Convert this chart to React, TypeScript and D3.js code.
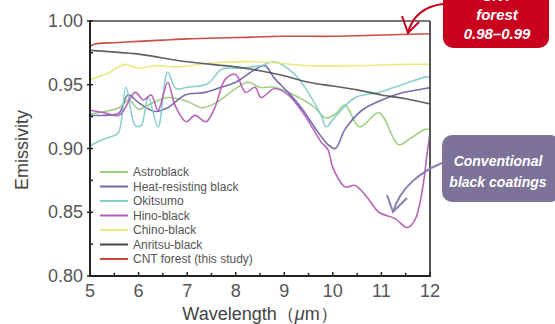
import * as d3 from 'd3'

// wavelength (um) vs emissivity
const astroblack: [number, number][] = [
  [5, 0.927], [5.3, 0.929], [5.6, 0.932], [5.8, 0.938], [6.0, 0.931], [6.3, 0.936], [6.6, 0.94],
  [7.0, 0.937], [7.3, 0.932], [7.6, 0.936], [8.0, 0.947], [8.25, 0.952], [8.5, 0.948], [8.8, 0.948],
  [9.2, 0.942], [9.6, 0.933], [9.85, 0.924], [10.05, 0.927], [10.25, 0.934], [10.55, 0.917],
  [10.95, 0.928], [11.35, 0.903], [11.6, 0.908], [11.9, 0.915], [12, 0.915],
]
const heatResisting: [number, number][] = [
  [5, 0.926], [5.3, 0.926], [5.6, 0.928], [5.78, 0.942], [6.0, 0.936], [6.34, 0.929], [6.6, 0.932],
  [6.96, 0.942], [7.37, 0.944], [7.7, 0.948], [8.0, 0.952], [8.4, 0.962], [8.6, 0.965], [8.8, 0.955],
  [9.08, 0.944], [9.35, 0.932], [9.69, 0.913], [9.9, 0.903], [10.05, 0.9], [10.25, 0.915],
  [10.6, 0.93], [10.95, 0.937], [11.36, 0.943], [11.9, 0.947], [12, 0.948],
]
const okitsumo: [number, number][] = [
  [5, 0.902], [5.2, 0.906], [5.4, 0.909], [5.58, 0.912], [5.74, 0.948], [5.93, 0.918], [6.05, 0.918],
  [6.2, 0.94], [6.4, 0.917], [6.6, 0.96], [6.77, 0.947], [7.0, 0.948], [7.43, 0.951], [7.7, 0.962],
  [8.05, 0.963], [8.52, 0.965], [8.8, 0.968], [9.22, 0.958], [9.49, 0.944], [9.76, 0.926],
  [9.86, 0.917], [10.05, 0.925], [10.46, 0.94], [10.95, 0.944], [11.42, 0.95], [11.9, 0.956], [12, 0.956],
]
const hinoBlack: [number, number][] = [
  [5, 0.93], [5.3, 0.928], [5.6, 0.926], [5.93, 0.944], [6.1, 0.938], [6.26, 0.942], [6.4, 0.93],
  [6.6, 0.952], [6.75, 0.934], [6.98, 0.921], [7.16, 0.926], [7.39, 0.921], [7.57, 0.932],
  [7.78, 0.954], [8.0, 0.958], [8.2, 0.944], [8.4, 0.948], [8.52, 0.94], [8.8, 0.947], [9.08, 0.942],
  [9.42, 0.926], [9.76, 0.905], [9.9, 0.899], [10.0, 0.885], [10.25, 0.87], [10.46, 0.871],
  [10.7, 0.862], [10.95, 0.85], [11.28, 0.845], [11.53, 0.838], [11.69, 0.844], [11.84, 0.867],
  [11.94, 0.896], [12, 0.912],
]
const chinoBlack: [number, number][] = [
  [5, 0.954], [5.37, 0.959], [5.72, 0.966], [5.99, 0.963], [6.34, 0.965], [6.8, 0.964], [7.5, 0.967],
  [8.5, 0.968], [9.5, 0.965], [10.5, 0.965], [11.5, 0.966], [12, 0.966],
]
const anritsuBlack: [number, number][] = [
  [5, 0.977], [6, 0.974], [7, 0.968], [8, 0.964], [8.5, 0.961], [9, 0.957], [9.5, 0.952], [10, 0.949],
  [10.5, 0.946], [11, 0.942], [11.5, 0.939], [12, 0.935],
]
const cntForest: [number, number][] = [
  [5, 0.98], [5.1, 0.982], [5.5, 0.983], [6, 0.984], [6.5, 0.985], [7, 0.986], [8, 0.987], [9, 0.988],
  [10, 0.988], [11, 0.989], [12, 0.99],
]

const seriesNames = [
  'Astroblack', 'Heat-resisting black', 'Okitsumo', 'Hino-black', 'Chino-black', 'Anritsu-black',
  'CNT forest (this study)',
]
const seriesData = [astroblack, heatResisting, okitsumo, hinoBlack, chinoBlack, anritsuBlack, cntForest]
const seriesColors = ['#9ccc7c', '#6f66ab', '#86cccc', '#b45cb4', '#e8e87c', '#444444', '#c8443c']

const xTicks = [5, 6, 7, 8, 9, 10, 11, 12]
const yTicks = [0.8, 0.85, 0.9, 0.95, 1.0]

export default function App() {
  const left = 90, right = 430, top = 21, bottom = 276
  const x = d3.scaleLinear().domain([5, 12]).range([left, right])
  const y = d3.scaleLinear().domain([0.8, 1.0]).range([bottom, top])
  const line = d3.line<[number, number]>()
    .x(d => x(d[0]))
    .y(d => y(d[1]))
    .curve(d3.curveCatmullRom)

  const xMinor = d3.range(5.5, 12, 1)
  const yMinor = d3.range(0.825, 1.0, 0.05)
  const font = 'Liberation Sans, Arial, sans-serif'

  return (
    <svg width={555} height={324} style={{ position: 'absolute', left: 0, top: 0, background: '#fff' }}>
      <defs>
        <clipPath id="plot">
          <rect x={left} y={top} width={right - left} height={bottom - top} />
        </clipPath>
      </defs>

      {/* series, drawn back to front so CNT sits on top */}
      <g clipPath="url(#plot)" fill="none">
        {seriesData.map((s, i) => (
          <path key={i} d={line(s) || ''} stroke={seriesColors[i]} strokeWidth={1.6}
            strokeLinejoin="round" opacity={i === 5 ? 0.85 : 0.95} />
        ))}
      </g>

      {/* frame */}
      <line x1={left} x2={right} y1={top} y2={top} stroke="#777" strokeWidth={2} />
      <line x1={right} x2={right} y1={top} y2={bottom} stroke="#555" strokeWidth={2} />
      <line x1={left} x2={left} y1={top - 1} y2={bottom + 1} stroke="#222" strokeWidth={2} />
      <line x1={left - 1} x2={right + 1} y1={bottom} y2={bottom} stroke="#222" strokeWidth={2} />

      {/* x ticks */}
      {xTicks.map(t => (
        <g key={t}>
          <line x1={x(t)} x2={x(t)} y1={bottom} y2={bottom - 4} stroke="#222" strokeWidth={1.5} />
          <text x={x(t)} y={297} textAnchor="middle" fontFamily={font} fontSize={18} fill="#555">{t}</text>
        </g>
      ))}
      {xMinor.map(t => (
        <line key={t} x1={x(t)} x2={x(t)} y1={bottom} y2={bottom - 3} stroke="#222" strokeWidth={1.5} />
      ))}

      {/* y ticks */}
      {yTicks.map(t => (
        <g key={t}>
          <line x1={left - 3} x2={left + 3} y1={y(t)} y2={y(t)} stroke="#222" strokeWidth={1.5} />
          <text x={83} y={y(t) + 6} textAnchor="end" fontFamily={font} fontSize={18} fill="#555">
            {d3.format('.2f')(t)}
          </text>
        </g>
      ))}
      {yMinor.map(t => (
        <line key={t} x1={left} x2={left + 3} y1={y(t)} y2={y(t)} stroke="#222" strokeWidth={1.5} />
      ))}

      {/* axis titles */}
      <text transform="translate(28,150) rotate(-90)" textAnchor="middle" fontFamily={font}
        fontSize={18} fill="#444">Emissivity</text>
      <text x={260} y={320} textAnchor="middle" fontFamily={font} fontSize={18} fill="#444">
        Wavelength（<tspan fontStyle="italic">μ</tspan>m）
      </text>

      {/* legend */}
      {seriesNames.map((n, i) => {
        const ly = 172 + i * 14.5
        return (
          <g key={n}>
            <line x1={100} x2={128} y1={ly} y2={ly} stroke={seriesColors[i]} strokeWidth={2} />
            <text x={133} y={ly + 4} fontFamily={font} fontSize={12} fill="#555">{n}</text>
          </g>
        )
      })}

      {/* CNT forest callout (top line runs off the page, as in the original) */}
      <rect x={443} y={-30} width={106} height={78} rx={10} fill="#c8001e" />
      <g fontFamily={font} fontSize={15} fontWeight="bold" fontStyle="italic" fill="#fff" textAnchor="middle">
        <text x={497} y={1}>CNT</text>
        <text x={497} y={20}>forest</text>
        <text x={497} y={39}>0.98–0.99</text>
      </g>
      <path d="M443,4 C425,6 412,16 408,33" fill="none" stroke="#c8001e" strokeWidth={2} />
      <path d="M402,16 L408,33 L419,22" fill="none" stroke="#c8001e" strokeWidth={2} />

      {/* conventional coatings callout */}
      <rect x={442} y={135} width={118} height={67} rx={10} fill="#7d7399" />
      <g fontFamily={font} fontSize={14} fontWeight="bold" fontStyle="italic" fill="#fff" textAnchor="middle">
        <text x={498} y={166}>Conventional</text>
        <text x={498} y={187}>black coatings</text>
      </g>
      <path d="M442,163 C420,172 400,188 393,212" fill="none" stroke="#8a80b0" strokeWidth={2} />
      <path d="M387,195 L393,212 L407,198" fill="none" stroke="#8a80b0" strokeWidth={2} />
    </svg>
  )
}
